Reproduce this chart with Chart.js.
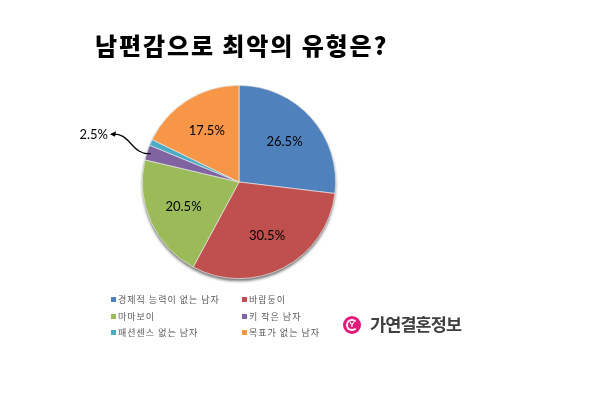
<!DOCTYPE html>
<html>
<head>
<meta charset="utf-8">
<script src="https://cdn.jsdelivr.net/npm/chart.js@4/dist/chart.umd.min.js"></script>
<style>
  html,body{margin:0;padding:0;background:#fff;}
  #wrap{position:relative;width:600px;height:399px;overflow:hidden;background:#fff;}
  #c{position:absolute;left:0;top:0;}
  #title{position:absolute;left:95px;top:29px;font-family:"Noto Sans CJK KR";font-weight:900;font-size:24px;line-height:32px;color:#000;white-space:nowrap;letter-spacing:1.9px;}
  .leg{position:absolute;font-family:"Noto Sans CJK KR";font-size:9px;line-height:12px;color:#595959;white-space:nowrap;letter-spacing:1px;}
  .leg i{display:inline-block;width:5px;height:5px;margin-right:2px;vertical-align:1px;}
  #logo{position:absolute;left:343px;top:316px;height:18px;white-space:nowrap;}
  #logo .circ{position:absolute;left:0;top:0;width:18px;height:18px;border-radius:50%;background:#e5197c;}
  #logo .ring{position:absolute;left:3px;top:3px;width:8px;height:8px;border-radius:50%;border:2px solid #fff;border-right-color:transparent;}
  #logo .y{position:absolute;left:4px;top:3px;width:10px;text-align:center;font:bold 8px "Liberation Sans";color:#fff;line-height:12px;}
  #logo .txt{position:absolute;left:27px;top:-4.5px;font-family:"Noto Sans CJK KR";font-weight:bold;font-size:17.5px;line-height:24px;color:#404040;letter-spacing:-0.9px;}
</style>
</head>
<body>
<div id="wrap">
  <canvas id="c" width="600" height="399"></canvas>
  <div id="title"></div>
  <div id="legend"></div>
  <div id="logo"><div class="circ"><div class="ring"></div><div class="y">Y</div></div><div class="txt"></div></div>
</div>
<script>
const titleText = "남편감으로 최악의 유형은?";
const categories = ["경제적 능력이 없는 남자", "바람둥이", "마마보이", "키 작은 남자", "패션센스 없는 남자", "목표가 없는 남자"];
const values = [26.5, 30.5, 20.5, 2.5, 1.0, 17.5];
const valueLabels = ["26.5%", "30.5%", "20.5%", "2.5%", "", "17.5%"];
const colors = ["#4F81BD", "#C0504D", "#9BBB59", "#8064A2", "#4BACC6", "#F79646"];
const logoText = "가연결혼정보";

document.getElementById('title').textContent = titleText;
document.querySelector('#logo .txt').textContent = logoText;

// legend (2 columns x 3 rows)
const legend = document.getElementById('legend');
categories.forEach((cat, i) => {
  const d = document.createElement('div');
  d.className = 'leg';
  const col = i % 2, row = Math.floor(i / 2);
  d.style.left = (col === 0 ? 111 : 242) + 'px';
  d.style.top = (294 + row * 16.5) + 'px';
  const sw = document.createElement('i');
  sw.style.background = colors[i];
  d.appendChild(sw);
  d.appendChild(document.createTextNode(cat));
  legend.appendChild(d);
});

const shadowPlugin = {
  id: 'pieShadow',
  beforeDatasetsDraw(chart) {
    const arc = chart.getDatasetMeta(0).data[0];
    if (!arc) return;
    const {x, y, outerRadius} = arc.getProps(['x', 'y', 'outerRadius'], true);
    const ctx = chart.ctx;
    ctx.save();
    ctx.shadowColor = 'rgba(0,0,0,0.55)';
    ctx.shadowBlur = 3;
    ctx.shadowOffsetY = 2.5;
    ctx.beginPath();
    ctx.arc(x, y, outerRadius, 0, Math.PI * 2);
    ctx.fillStyle = '#888';
    ctx.fill();
    ctx.restore();
  }
};

const labelPlugin = {
  id: 'sliceLabels',
  afterDatasetsDraw(chart) {
    const ctx = chart.ctx;
    const meta = chart.getDatasetMeta(0);
    ctx.save();
    ctx.font = '13px Lato';
    ctx.fillStyle = '#000';
    ctx.textAlign = 'center';
    ctx.textBaseline = 'middle';
    meta.data.forEach((arc, i) => {
      const t = valueLabels[i];
      if (!t) return;
      const p = arc.getProps(['x', 'y', 'startAngle', 'endAngle', 'outerRadius'], true);
      const mid = (p.startAngle + p.endAngle) / 2;
      const cx = Math.cos(mid), cy = Math.sin(mid);
      if (values[i] < 5) {
        // outside label with curved leader
        const lx = p.x + cx * p.outerRadius * 1.58;
        const ly = p.y + cy * p.outerRadius * 1.58;
        ctx.fillText(t, lx, ly);
        const w = ctx.measureText(t).width;
        const sx = lx + w / 2 + 3, sy = ly - 1;
        const ex = p.x + cx * p.outerRadius * 0.96, ey = p.y + cy * p.outerRadius * 0.96;
        ctx.strokeStyle = '#000';
        ctx.lineWidth = 1.2;
        ctx.beginPath();
        ctx.moveTo(sx, sy);
        ctx.bezierCurveTo(sx + 20, sy - 3, ex - 20, ey + 2, ex, ey);
        ctx.stroke();
        // arrowhead at label end
        ctx.beginPath();
        ctx.moveTo(sx - 1, sy);
        ctx.lineTo(sx + 5, sy - 3);
        ctx.lineTo(sx + 4, sy + 2.5);
        ctx.closePath();
        ctx.fillStyle = '#000';
        ctx.fill();
      } else {
        const r = p.outerRadius * 0.63;
        ctx.fillText(t, p.x + cx * r, p.y + cy * r);
      }
    });
    ctx.restore();
  }
};

new Chart(document.getElementById('c'), {
  type: 'pie',
  data: {
    labels: categories,
    datasets: [{
      data: values,
      backgroundColor: colors,
      borderColor: 'rgba(235,235,235,0.85)',
      borderWidth: 0.8
    }]
  },
  options: {
    responsive: false,
    animation: false,
    events: [],
    layout: { padding: { left: 142, right: 264, top: 85, bottom: 120 } },
    plugins: {
      legend: { display: false },
      title: { display: false },
      tooltip: { enabled: false }
    }
  },
  plugins: [shadowPlugin, labelPlugin]
});
</script>
</body>
</html>
